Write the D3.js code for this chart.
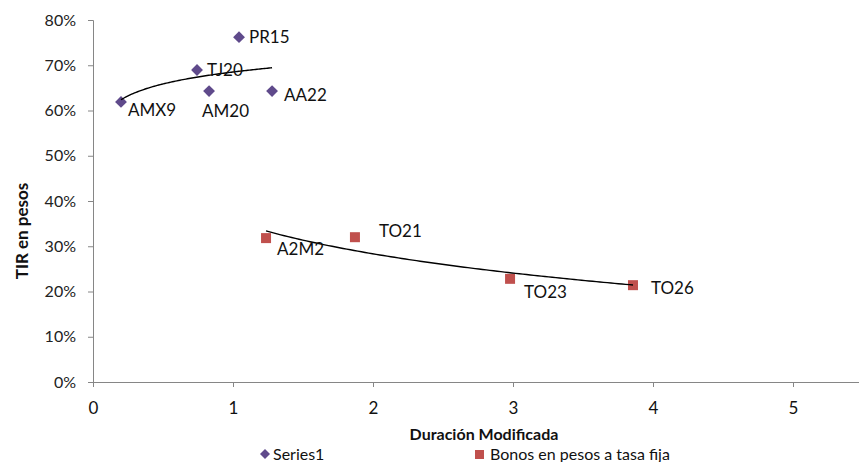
<!DOCTYPE html>
<html><head><meta charset="utf-8">
<script src="https://cdn.jsdelivr.net/npm/d3@7"></script>
<style>body{margin:0;background:#fff}text{font-family:Lato,"Open Sans",sans-serif}</style>
</head><body><svg id="c" width="859" height="462"></svg>
<script>
const series1Names = ["AMX9","TJ20","AM20","PR15","AA22"];
const series1X = [0.20, 0.743, 0.829, 1.043, 1.279];
const series1Y = [0.619, 0.6895, 0.643, 0.762, 0.643];
const series2Names = ["A2M2","TO21","TO23","TO26"];
const series2X = [1.236, 1.871, 2.979, 3.857];
const series2Y = [0.318, 0.320, 0.228, 0.214];
const xTicks = [0,1,2,3,4,5];
const yTicks = [0,0.1,0.2,0.3,0.4,0.5,0.6,0.7,0.8];
const legendLabels = ["Series1","Bonos en pesos a tasa fija"];
// label offsets (styling)
const labelOffsets = {AMX9:[7,14],TJ20:[10,6],AM20:[-7,26],PR15:[10,6],AA22:[12,10],
  A2M2:[11,17],TO21:[24,0],TO23:[14,19],TO26:[18,9]};

const svg = d3.select("#c");
const x = d3.scaleLinear().domain([0,5.5]).range([93,863]);
const y = d3.scaleLinear().domain([0,0.8]).range([382,20]);
const purple = "#5F4A8B", red = "#C0504D";

// axes
const ya = svg.append("g").attr("transform","translate(93,0)")
  .call(d3.axisLeft(y).tickValues(yTicks).tickFormat(d3.format(".0%")).tickSizeOuter(0).tickSize(5));
ya.select(".domain").attr("stroke","#868686");
ya.selectAll(".tick line").attr("stroke","#868686");
ya.selectAll(".tick text").attr("font-size",16).attr("fill","#222").attr("x",-17);

const xa = svg.append("g").attr("transform","translate(0,382)")
  .call(d3.axisBottom(x).tickValues(xTicks).tickFormat(d3.format("d")).tickSizeOuter(0).tickSize(5));
xa.select(".domain").attr("stroke","#868686");
xa.selectAll(".tick line").attr("stroke","#868686");
xa.selectAll(".tick text").attr("font-size",17).attr("fill","#111").attr("y",20);

// titles
svg.append("text").attr("transform","translate(28,231) rotate(-90)").attr("text-anchor","middle")
  .attr("font-weight","bold").attr("font-size",17).attr("fill","#111").text("TIR en pesos");
svg.append("text").attr("x",484).attr("y",440).attr("text-anchor","middle")
  .attr("font-weight","bold").attr("font-size",16).attr("fill","#111").text("Duración Modificada");

// log trendlines
function logFit(xs, ys){
  const lx = xs.map(Math.log);
  const mx = d3.mean(lx), my = d3.mean(ys);
  let sxy=0, sxx=0;
  lx.forEach((v,i)=>{sxy+=(v-mx)*(ys[i]-my); sxx+=(v-mx)*(v-mx);});
  const b = sxy/sxx, a = my - b*mx;
  return xv => a + b*Math.log(xv);
}
function trend(xs, ys){
  const f = logFit(xs, ys);
  const [x0,x1] = d3.extent(xs);
  const pts = d3.range(0,101).map(i=>{const xv=x0+(x1-x0)*i/100; return [x(xv), y(f(xv))];});
  svg.append("path").attr("d", d3.line()(pts)).attr("fill","none").attr("stroke","#000").attr("stroke-width",1.4);
}

// points
const s1 = series1Names.map((n,i)=>({n, x:series1X[i], y:series1Y[i]}));
const s2 = series2Names.map((n,i)=>({n, x:series2X[i], y:series2Y[i]}));
svg.selectAll(".d").data(s1).join("path")
  .attr("d", d3.symbol().type(d3.symbolSquare).size(70))
  .attr("transform", d=>`translate(${x(d.x)},${y(d.y)}) rotate(45)`).attr("fill",purple);
svg.selectAll(".s").data(s2).join("rect")
  .attr("x", d=>x(d.x)-5).attr("y", d=>y(d.y)-5).attr("width",10).attr("height",10).attr("fill",red);

trend(series1X, series1Y);
trend(series2X, series2Y);

svg.selectAll(".lbl").data(s1.concat(s2)).join("text")
  .attr("x", d=>x(d.x)+labelOffsets[d.n][0]).attr("y", d=>y(d.y)+labelOffsets[d.n][1])
  .attr("font-size",17).attr("fill","#111").text(d=>d.n);

// legend
const lg = svg.append("g");
lg.append("path").attr("d", d3.symbol().type(d3.symbolSquare).size(50)).attr("transform","translate(265,454) rotate(45)").attr("fill",purple);
lg.append("text").attr("x",273).attr("y",460).attr("font-size",16).attr("fill","#111").text(legendLabels[0]);
lg.append("rect").attr("x",475).attr("y",450).attr("width",9).attr("height",9).attr("fill",red);
lg.append("text").attr("x",490).attr("y",460).attr("font-size",16).attr("fill","#111").text(legendLabels[1]);
</script></body></html>
